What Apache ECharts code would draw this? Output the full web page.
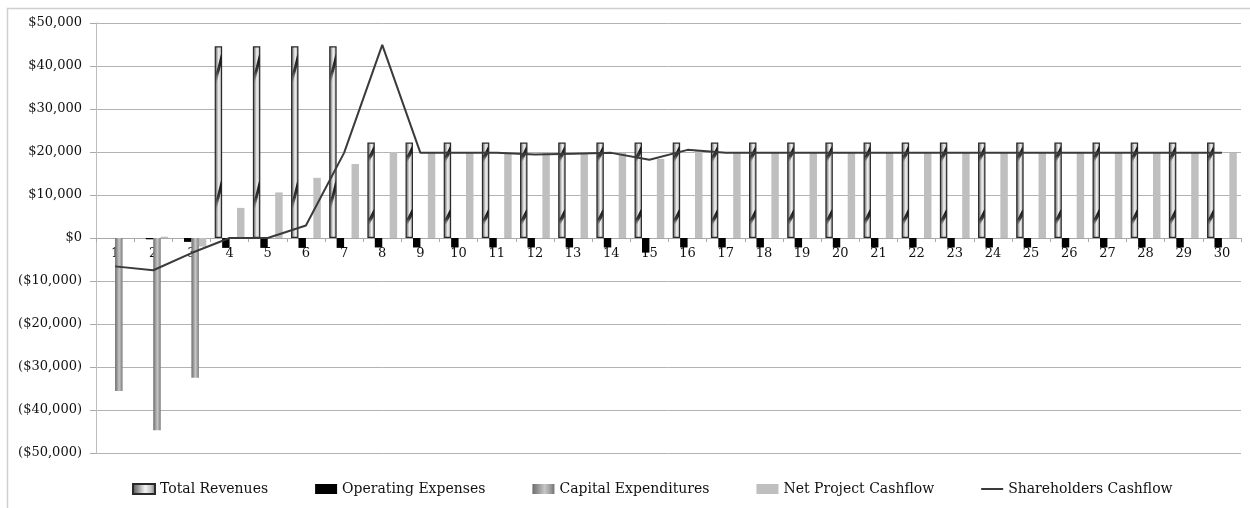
<!DOCTYPE html>
<html>
<head>
<meta charset="utf-8">
<style>
  html, body { margin: 0; padding: 0; background: #ffffff; }
  #chart { width: 1250px; height: 508px; }
</style>
<script src="https://cdn.jsdelivr.net/npm/echarts@6.0.0/dist/echarts.min.js"></script>
</head>
<body>
<div id="chart"></div>
<script>
// Project years 1..30
const categories = ['1','2','3','4','5','6','7','8','9','10','11','12','13','14','15',
  '16','17','18','19','20','21','22','23','24','25','26','27','28','29','30'];

const totalRevenues = [0, 0, 0, 44600, 44600, 44600, 44600, 22200, 22200, 22200,
  22200, 22200, 22200, 22200, 22200, 22200, 22200, 22200, 22200, 22200,
  22200, 22200, 22200, 22200, 22200, 22200, 22200, 22200, 22200, 22200];

const operatingExpenses = [0, -300, -900, -2300, -2300, -2300, -2300, -2200, -2200, -2200,
  -2200, -2200, -2200, -2200, -3400, -2200, -2200, -2200, -2200, -2200,
  -2200, -2200, -2200, -2200, -2200, -2200, -2200, -2200, -2200, -2200];

const capitalExpenditures = [-35600, -44700, -32500, 0, 0, 0, 0, 0, 0, 0,
  0, 0, 0, 0, 0, 0, 0, 0, 0, 0,
  0, 0, 0, 0, 0, 0, 0, 0, 0, 0];

const netProjectCashflow = [0, 300, -2000, 7000, 10600, 14000, 17200, 20000, 19800, 19800,
  19800, 19800, 19800, 19800, 18400, 20300, 19800, 19800, 19800, 19800,
  19800, 19800, 19800, 19800, 19800, 19800, 19800, 19800, 19800, 19800];

const shareholdersCashflow = [-6600, -7500, -3500, 0, 0, 2900, 19800, 44900, 19800, 19800,
  19800, 19400, 19600, 19800, 18200, 20500, 19800, 19800, 19800, 19800,
  19800, 19800, 19800, 19800, 19800, 19800, 19800, 19800, 19800, 19800];

// Value axis ticks and their printed labels
const yTickValues = [-50000, -40000, -30000, -20000, -10000, 0, 10000, 20000, 30000, 40000, 50000];
const yTickLabels = ['($50,000)', '($40,000)', '($30,000)', '($20,000)', '($10,000)', '$0',
  '$10,000', '$20,000', '$30,000', '$40,000', '$50,000'];

const seriesNames = ['Total Revenues', 'Operating Expenses', 'Capital Expenditures',
  'Net Project Cashflow', 'Shareholders Cashflow'];

const FONT = 'DejaVu Serif';
const BAR_SHARE = 0.195;   // each bar takes this share of a category band

// empty periods draw no bar at all
const noZero = function (v) { return v === 0 ? null : v; };

const chart = echarts.init(document.getElementById('chart'), null, { renderer: 'canvas' });

// metallic cylinder shading for the revenue bars
const revenueFill = new echarts.graphic.LinearGradient(0, 0, 1, 0, [
  { offset: 0, color: '#4e4e4e' },
  { offset: 0.25, color: '#979797' },
  { offset: 0.55, color: '#f4f4f4' },
  { offset: 0.8, color: '#c2c2c2' },
  { offset: 1, color: '#686868' }
]);

// striped grey for the capital expenditure bars
const capexFill = new echarts.graphic.LinearGradient(0, 0, 1, 0, [
  { offset: 0, color: '#6c6c6c' },
  { offset: 0.3, color: '#9c9c9c' },
  { offset: 0.55, color: '#c6c6c6' },
  { offset: 0.8, color: '#a0a0a0' },
  { offset: 1, color: '#727272' }
]);

// thin horizontal stroke used as the legend mark of the line series
const lineIcon = 'path://M0,0L0.01,0L0.01,0.01Z M0,4L22,4L22,6L0,6Z M22,10L21.99,10L21.99,9.99Z';

// dark diagonal twist marks drawn over each revenue bar
function renderRevenueTwist(params, api) {
  const idx = api.value(0);
  const val = api.value(1);
  if (!val) return null;
  const band = api.size([1, 0])[0];
  const bw = band * BAR_SHARE;
  const top = api.coord([idx, val]);
  const base = api.coord([idx, 0]);
  const x0 = top[0] - 2 * bw + 1;
  const x1 = top[0] - bw - 1;
  const h = base[1] - top[1];
  const d = h * 0.11;
  const t = h * 0.045;
  const children = [0.115, 0.775].map(function (f) {
    const c = top[1] + h * f;
    return {
      type: 'polygon',
      shape: {
        points: [
          [x0, c + d / 2 - t / 2],
          [x1, c - d / 2 - t / 2],
          [x1, c - d / 2 + t / 2 + 3],
          [x0, c + d / 2 + t / 2 + 3]
        ]
      },
      style: {
        fill: new echarts.graphic.LinearGradient(0, 0, 0, 1, [
          { offset: 0, color: 'rgba(5,5,5,1)' },
          { offset: 0.55, color: 'rgba(30,30,30,0.85)' },
          { offset: 1, color: 'rgba(120,120,120,0.0)' }
        ])
      }
    };
  });
  return { type: 'group', children: children };
}

const option = {
  backgroundColor: '#ffffff',
  animation: false,
  textStyle: { fontFamily: FONT },
  graphic: [{
    type: 'rect',
    z: -10,
    shape: { x: 7.5, y: 8.5, width: 1400, height: 700 },
    style: { fill: 'none', stroke: '#cfcfcf', lineWidth: 1.5 }
  }],
  grid: { left: 96, right: 9, top: 23, bottom: 55, containLabel: false },
  legend: {
    data: [
      { name: seriesNames[0], icon: 'rect' },
      { name: seriesNames[1], icon: 'rect' },
      { name: seriesNames[2], icon: 'rect' },
      { name: seriesNames[3], icon: 'rect' },
      { name: seriesNames[4], icon: lineIcon }
    ],
    left: 127,
    top: 477,
    itemWidth: 22,
    itemHeight: 10,
    itemGap: 47,
    textStyle: { fontFamily: FONT, fontSize: 14, color: '#111' }
  },
  xAxis: {
    type: 'category',
    data: categories,
    position: 'bottom',
    axisLine: { onZero: false, lineStyle: { color: '#a8a8a8', width: 1 } },
    axisTick: { show: true, alignWithLabel: false, length: 4, lineStyle: { color: '#a8a8a8' } },
    axisLabel: { margin: 9, fontFamily: FONT, fontSize: 13, color: '#111' },
    splitLine: { show: false }
  },
  yAxis: {
    type: 'value',
    min: -50000,
    max: 50000,
    interval: 10000,
    axisLine: { show: true, lineStyle: { color: '#bdbdbd' } },
    axisTick: { show: true, length: 6, lineStyle: { color: '#a8a8a8' } },
    axisLabel: {
      margin: 14,
      fontFamily: FONT,
      fontSize: 13,
      color: '#111',
      formatter: function (v) {
        const i = yTickValues.indexOf(v);
        return i >= 0 ? yTickLabels[i] : '';
      }
    },
    splitLine: { lineStyle: { color: '#b3b3b3', width: 1 } }
  },
  series: [
    {
      name: 'Total Revenues',
      type: 'bar',
      data: totalRevenues.map(noZero),
      barWidth: (BAR_SHARE * 100) + '%',
      barGap: '0%',
      itemStyle: { color: revenueFill, borderColor: '#2a2a2a', borderWidth: 1.2 },
      z: 2
    },
    {
      name: 'Operating Expenses',
      type: 'bar',
      data: operatingExpenses.map(noZero),
      barWidth: (BAR_SHARE * 100) + '%',
      barGap: '0%',
      itemStyle: { color: '#000000' },
      z: 2
    },
    {
      name: 'Capital Expenditures',
      type: 'bar',
      data: capitalExpenditures.map(noZero),
      barWidth: (BAR_SHARE * 100) + '%',
      barGap: '0%',
      itemStyle: { color: capexFill },
      z: 2
    },
    {
      name: 'Net Project Cashflow',
      type: 'bar',
      data: netProjectCashflow.map(noZero),
      barWidth: (BAR_SHARE * 100) + '%',
      barGap: '0%',
      itemStyle: { color: '#bfbfbf' },
      z: 2
    },
    {
      name: 'revenueTwist',
      type: 'custom',
      renderItem: renderRevenueTwist,
      data: totalRevenues.map(function (v, i) { return [i, v]; }),
      encode: { x: 0, y: 1 },
      silent: true,
      clip: true,
      z: 3
    },
    {
      name: 'Shareholders Cashflow',
      type: 'line',
      data: shareholdersCashflow,
      symbol: 'none',
      lineStyle: { color: '#3a3a3a', width: 2 },
      itemStyle: { color: '#3a3a3a' },
      z: 5
    }
  ]
};

chart.setOption(option);

// lift the category axis onto the zero line of the value axis
const zeroY = chart.convertToPixel({ yAxisIndex: 0 }, 0);
const floorY = chart.convertToPixel({ yAxisIndex: 0 }, yTickValues[0]);
chart.setOption({ xAxis: { offset: -(floorY - zeroY) } });
</script>
</body>
</html>
